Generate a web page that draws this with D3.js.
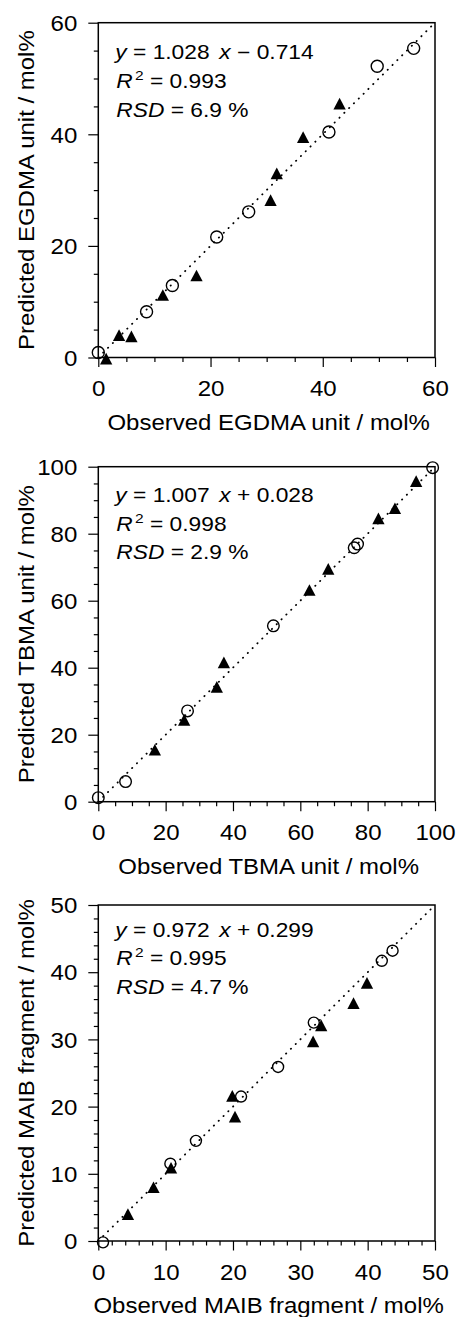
<!DOCTYPE html>
<html>
<head>
<meta charset="utf-8">
<script src="https://cdn.jsdelivr.net/npm/d3@7"></script>
<style>
  body { margin: 0; background: #fff; }
  svg { display: block; }
  text { font-family: "Liberation Sans", Arial, Helvetica, sans-serif; fill: #000; }
</style>
</head>
<body>
<svg id="chart" width="457" height="1317"></svg>
<script>
// ---- data ----
// EGDMA unit
var egdmaOpenObs  = [0.0, 8.6, 13.2, 21.1, 26.8, 41.1, 49.7, 56.2];
var egdmaOpenPred = [0.9, 8.2, 12.9, 21.6, 26.1, 40.4, 52.2, 55.4];
var egdmaFillObs  = [1.4, 3.7, 5.9, 11.5, 17.5, 30.7, 31.8, 36.5, 43.0];
var egdmaFillPred = [-0.2, 4.0, 3.8, 11.2, 14.7, 28.2, 33.0, 39.5, 45.5];

// TBMA unit
var tbmaOpenObs  = [0.0, 8.1, 26.5, 52.0, 76.0, 77.0, 99.3];
var tbmaOpenPred = [1.2, 6.0, 27.1, 52.5, 75.8, 76.9, 99.7];
var tbmaFillObs  = [16.8, 25.5, 35.2, 37.3, 62.7, 68.3, 83.2, 88.1, 94.4];
var tbmaFillPred = [15.5, 24.4, 34.3, 41.6, 63.2, 69.5, 84.6, 87.6, 95.7];

// MAIB fragment
var maibOpenObs  = [0.7, 10.7, 14.5, 21.2, 26.7, 32.0, 42.1, 43.7];
var maibOpenPred = [-0.2, 11.5, 14.9, 21.5, 25.9, 32.5, 41.7, 43.2];
var maibFillObs  = [4.4, 8.2, 10.8, 19.9, 20.3, 31.9, 33.1, 37.9, 39.9];
var maibFillPred = [4.0, 8.0, 10.9, 21.6, 18.5, 29.7, 32.1, 35.4, 38.4];

// axis ranges and ticks
var egdmaMax = 60, egdmaMajor = [0, 20, 40, 60], egdmaMinorStep = 5;
var tbmaMax = 100, tbmaMajor = [0, 20, 40, 60, 80, 100], tbmaMinorStep = 5;
var maibMax = 50, maibMajor = [0, 10, 20, 30, 40, 50], maibMinorStep = 2;

// titles and fit statistics
var xTitles = ["Observed EGDMA unit / mol%", "Observed TBMA unit / mol%", "Observed MAIB fragment / mol%"];
var yTitles = ["Predicted EGDMA unit / mol%", "Predicted TBMA unit / mol%", "Predicted MAIB fragment / mol%"];
var fitSlopes = ["1.028", "1.007", "0.972"];
var fitSigns = ["−", "+", "+"];
var fitIntercepts = ["0.714", "0.028", "0.299"];
var fitR2 = ["0.993", "0.998", "0.995"];
var fitRSD = ["6.9", "2.9", "4.7"];

// ---- layout ----
var left = 98.3, right = 435;
var panels = [
  {top: 22.7,  bottom: 357.5,  max: egdmaMax, major: egdmaMajor, step: egdmaMinorStep,
   open: [egdmaOpenObs, egdmaOpenPred], fill: [egdmaFillObs, egdmaFillPred], r: 6, eqOff: 36.6},
  {top: 466.7, bottom: 801.7,  max: tbmaMax, major: tbmaMajor, step: tbmaMinorStep,
   open: [tbmaOpenObs, tbmaOpenPred], fill: [tbmaFillObs, tbmaFillPred], r: 5.8, eqOff: 35},
  {top: 905,   bottom: 1241,   max: maibMax, major: maibMajor, step: maibMinorStep,
   open: [maibOpenObs, maibOpenPred], fill: [maibFillObs, maibFillPred], r: 5.5, eqOff: 31.5}
];

var svg = d3.select("#chart");

// triangle, centred on its bounding box
var triangle = {
  draw: function(ctx, size) {
    var w = Math.sqrt(size * 2.1), h = w * 0.95;
    ctx.moveTo(0, -h / 2);
    ctx.lineTo(w / 2, h / 2);
    ctx.lineTo(-w / 2, h / 2);
    ctx.closePath();
  }
};

// the figure's lettering is a little wider than Arial
function wideText(sel, x, y, rot, k) {
  return sel.attr("transform", "translate(" + x + "," + y + ")" + (rot ? " rotate(" + rot + ")" : "") + " scale(" + (k || 1.17) + ",1)");
}

panels.forEach(function(p, i) {
  var x = d3.scaleLinear().domain([0, p.max]).range([left, right]);
  var y = d3.scaleLinear().domain([0, p.max]).range([p.bottom, p.top]);
  var minor = d3.range(0, p.max + 0.001, p.step).filter(function(v) { return p.major.indexOf(v) < 0; });

  var g = svg.append("g");

  // minor ticks
  g.append("g").attr("transform", "translate(0," + p.bottom + ")")
    .call(d3.axisBottom(x).tickValues(minor).tickSize(4.5).tickFormat(""))
    .call(function(a) { a.select(".domain").remove(); });
  g.append("g").attr("transform", "translate(" + left + ",0)")
    .call(d3.axisLeft(y).tickValues(minor).tickSize(4.5).tickFormat(""))
    .call(function(a) { a.select(".domain").remove(); });

  // major ticks with labels
  var xa = g.append("g").attr("transform", "translate(0," + p.bottom + ")")
    .call(d3.axisBottom(x).tickValues(p.major).tickSize(9.5).tickFormat(d3.format("d")));
  xa.select(".domain").remove();
  xa.selectAll("text").attr("y", null).attr("dy", null)
    .each(function() { wideText(d3.select(this), 0, 38.5, 0, 1.12); });

  var ya = g.append("g").attr("transform", "translate(" + left + ",0)")
    .call(d3.axisLeft(y).tickValues(p.major).tickSize(10).tickFormat(d3.format("d")));
  ya.select(".domain").remove();
  ya.selectAll("text").attr("x", null).attr("dy", null)
    .each(function() { wideText(d3.select(this), -21, 7.7, 0, 1.12); });

  g.selectAll(".tick line").attr("stroke", "#000").attr("stroke-width", 1.2);
  g.selectAll(".tick text").attr("font-size", 21.5).attr("font-family", "Liberation Sans, Arial, sans-serif");

  // frame
  g.append("rect")
    .attr("x", left).attr("y", p.top)
    .attr("width", right - left).attr("height", p.bottom - p.top)
    .attr("fill", "none").attr("stroke", "#000").attr("stroke-width", 1.5);

  // 1:1 dotted line
  g.append("line")
    .attr("x1", x(0)).attr("y1", y(0))
    .attr("x2", x(p.max)).attr("y2", y(p.max))
    .attr("stroke", "#000").attr("stroke-width", 1.8)
    .attr("stroke-linecap", "round").attr("stroke-dasharray", "0.3 6.5");

  // open circles
  g.selectAll("circle.open")
    .data(p.open[0])
    .enter().append("circle")
    .attr("class", "open")
    .attr("cx", function(d) { return x(d); })
    .attr("cy", function(d, j) { return y(p.open[1][j]); })
    .attr("r", p.r)
    .attr("fill", "none").attr("stroke", "#000").attr("stroke-width", 1.4);

  // filled triangles
  var sym = d3.symbol().type(triangle).size(72);
  g.selectAll("path.fill")
    .data(p.fill[0])
    .enter().append("path")
    .attr("class", "fill")
    .attr("d", sym)
    .attr("transform", function(d, j) { return "translate(" + x(d) + "," + y(p.fill[1][j]) + ")"; })
    .attr("fill", "#000");

  // axis titles
  wideText(g.append("text"), (left + right) / 2 + 2, p.bottom + 72, 0, 1.09)
    .attr("text-anchor", "middle").attr("font-size", 22)
    .text(xTitles[i]);
  wideText(g.append("text"), 33.5, (p.top + p.bottom) / 2, -90, 1.09)
    .attr("text-anchor", "middle").attr("font-size", 22)
    .text(yTitles[i]);

  // fit equation
  var ex = left + 17, ey = p.top + p.eqOff, lh = 28.8;
  var eq = g.append("g").attr("font-size", 19.8);

  var t1 = wideText(eq.append("text"), ex, ey, 0, 1.15);
  t1.append("tspan").attr("font-style", "italic").text("y");
  t1.append("tspan").text(" = " + fitSlopes[i] + " ");
  t1.append("tspan").attr("dx", 3).attr("font-style", "italic").text("x");
  t1.append("tspan").text(" " + fitSigns[i] + " " + fitIntercepts[i]);

  var t2 = wideText(eq.append("text"), ex + 1, ey + lh, 0, 1.15);
  t2.append("tspan").attr("font-style", "italic").text("R");
  t2.append("tspan").attr("font-size", 13.5).attr("dx", 2).attr("dy", -8).text("2");
  t2.append("tspan").attr("dy", 8).text(" = " + fitR2[i]);

  var t3 = wideText(eq.append("text"), ex + 1, ey + 2 * lh, 0, 1.15);
  t3.append("tspan").attr("font-style", "italic").text("RSD");
  t3.append("tspan").text(" = " + fitRSD[i] + " %");
});
</script>
</body>
</html>
